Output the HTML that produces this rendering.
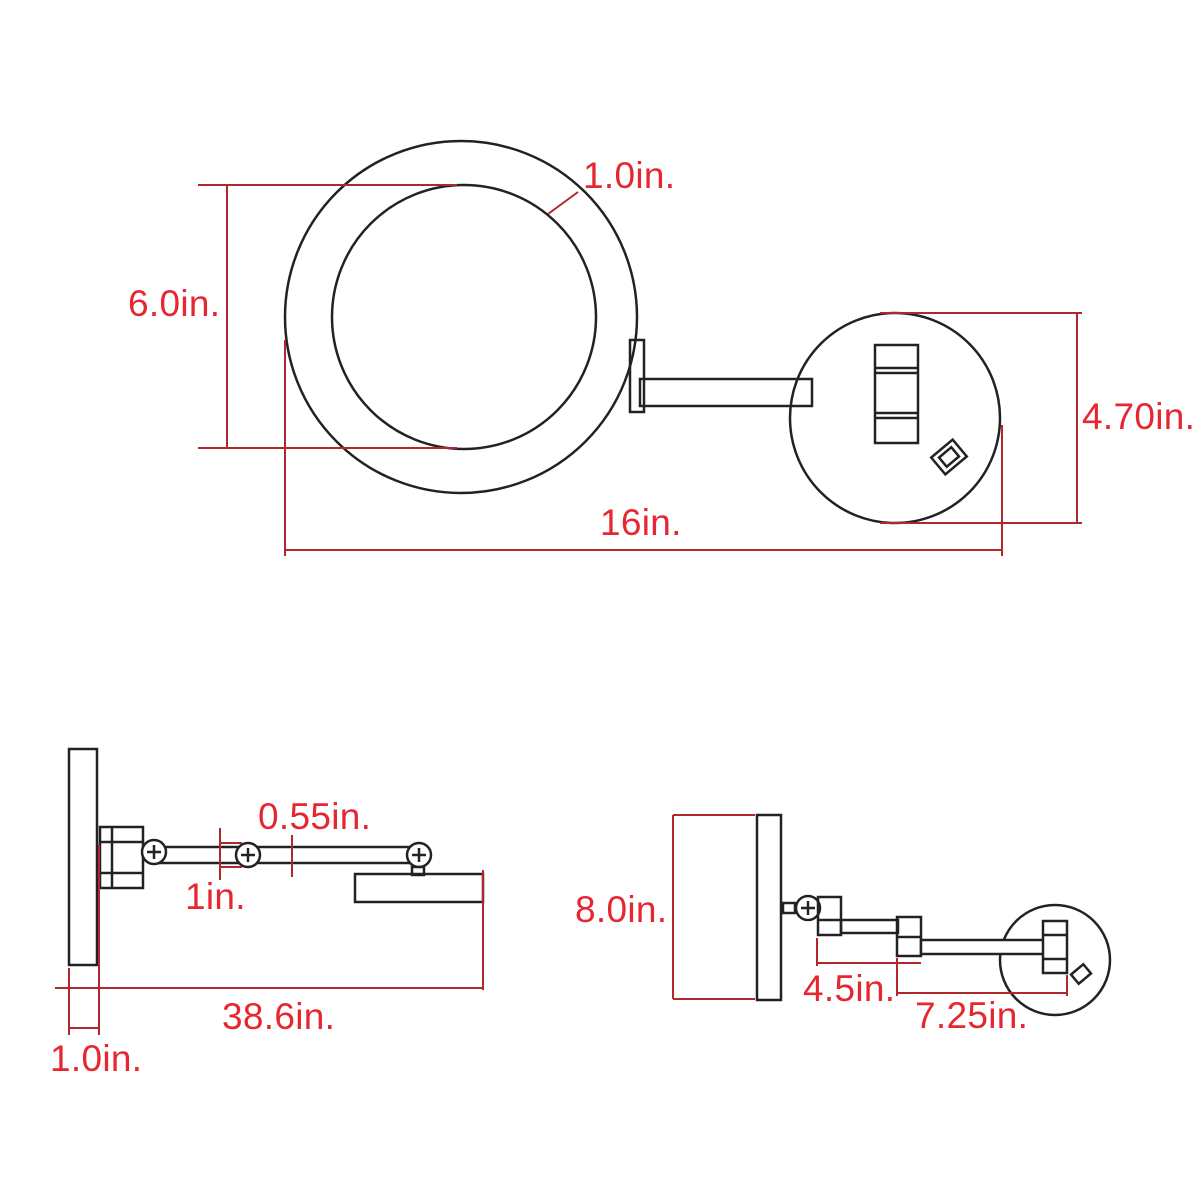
<!DOCTYPE html>
<html><head><meta charset="utf-8"><style>
html,body{margin:0;padding:0;background:#fff;}
svg{display:block;}
text{font-family:"Liberation Sans",sans-serif;fill:#e62630;font-size:37px;letter-spacing:0.3px;}
</style></head><body>
<svg width="1200" height="1200" viewBox="0 0 1200 1200" xmlns="http://www.w3.org/2000/svg">
<g fill="none" stroke="#222" stroke-width="2.5">
<circle cx="461" cy="317" r="176"/>
<circle cx="464" cy="317" r="132"/>
<rect x="630" y="340" width="14" height="72"/>
<rect x="640" y="379" width="172" height="27"/>
<circle cx="895" cy="418" r="105"/>
<rect x="875" y="345" width="43" height="98" fill="#fff"/>
<line x1="875" y1="368" x2="918" y2="368"/><line x1="875" y1="373" x2="918" y2="373"/>
<line x1="875" y1="413" x2="918" y2="413"/><line x1="875" y1="418" x2="918" y2="418"/>
<rect x="935" y="446" width="28" height="22" transform="rotate(-40 949 457)"/>
<rect x="941" y="451" width="16" height="12" transform="rotate(-40 949 457)"/>
<rect x="69" y="749" width="28" height="216"/>
<rect x="100" y="827" width="43" height="61"/>
<line x1="112" y1="827" x2="112" y2="888"/>
<line x1="100" y1="842" x2="143" y2="842"/><line x1="100" y1="873" x2="143" y2="873"/>
<rect x="154" y="847" width="265" height="16"/>
<circle cx="154" cy="852" r="12" fill="#fff"/><path d="M147 852h14M154 845v14"/>
<circle cx="248" cy="855" r="12" fill="#fff"/><path d="M241 855h14M248 848v14"/>
<circle cx="419" cy="855" r="12" fill="#fff"/><path d="M412 855h14M419 848v14"/>
<rect x="412" y="867" width="12" height="8"/>
<rect x="355" y="874" width="128" height="28"/>
<rect x="757" y="815" width="24" height="185"/>
<rect x="783" y="903" width="12" height="10"/>
<circle cx="808" cy="908" r="12" fill="#fff"/><path d="M801 908h14M808 901v14"/>
<rect x="818" y="897" width="23" height="38"/><line x1="818" y1="920" x2="841" y2="920"/>
<rect x="841" y="920" width="57" height="13"/>
<rect x="897" y="917" width="24" height="39"/><line x1="897" y1="937" x2="921" y2="937"/>
<circle cx="1055" cy="960" r="55"/>
<rect x="921" y="940" width="125" height="14" fill="#fff"/>
<rect x="1043" y="921" width="24" height="52" fill="#fff"/>
<line x1="1043" y1="935" x2="1067" y2="935"/><line x1="1043" y1="959" x2="1067" y2="959"/>
<rect x="1073" y="968" width="16" height="12" transform="rotate(-40 1081 974)"/>
</g>
<g stroke="#b0282c" stroke-width="2" fill="none">
<line x1="198" y1="185" x2="457" y2="185"/><line x1="198" y1="448" x2="457" y2="448"/>
<line x1="227" y1="185" x2="227" y2="448"/>
<line x1="548" y1="214" x2="578" y2="192"/>
<line x1="880" y1="313" x2="1082" y2="313"/><line x1="880" y1="523" x2="1082" y2="523"/>
<line x1="1077" y1="313" x2="1077" y2="523"/>
<line x1="285" y1="340" x2="285" y2="556"/><line x1="1002" y1="425" x2="1002" y2="556"/>
<line x1="285" y1="550" x2="1002" y2="550"/>
<line x1="55" y1="988" x2="483" y2="988"/>
<line x1="483" y1="870" x2="483" y2="990"/>
<line x1="69" y1="968" x2="69" y2="1035"/><line x1="99" y1="845" x2="99" y2="1035"/>
<line x1="69" y1="1028" x2="99" y2="1028"/>
<line x1="220" y1="828" x2="220" y2="880"/><line x1="292" y1="835" x2="292" y2="877"/>
<path d="M220 843h22M220 867h22"/>
<line x1="673" y1="815" x2="755" y2="815"/><line x1="673" y1="999" x2="755" y2="999"/>
<line x1="673" y1="815" x2="673" y2="999"/>
<line x1="817" y1="938" x2="817" y2="966"/><line x1="817" y1="963" x2="921" y2="963"/>
<line x1="897" y1="958" x2="897" y2="996"/><line x1="897" y1="993" x2="1067" y2="993"/>
<line x1="1067" y1="975" x2="1067" y2="996"/>
</g>
<text x="128" y="316">6.0in.</text>
<text x="583" y="188">1.0in.</text>
<text x="1082" y="429">4.70in.</text>
<text x="600" y="535">16in.</text>
<text x="258" y="829">0.55in.</text>
<text x="185" y="909">1in.</text>
<text x="222" y="1029">38.6in.</text>
<text x="50" y="1071">1.0in.</text>
<text x="575" y="922">8.0in.</text>
<text x="803" y="1001">4.5in.</text>
<text x="915" y="1028">7.25in.</text>
</svg>
</body></html>
